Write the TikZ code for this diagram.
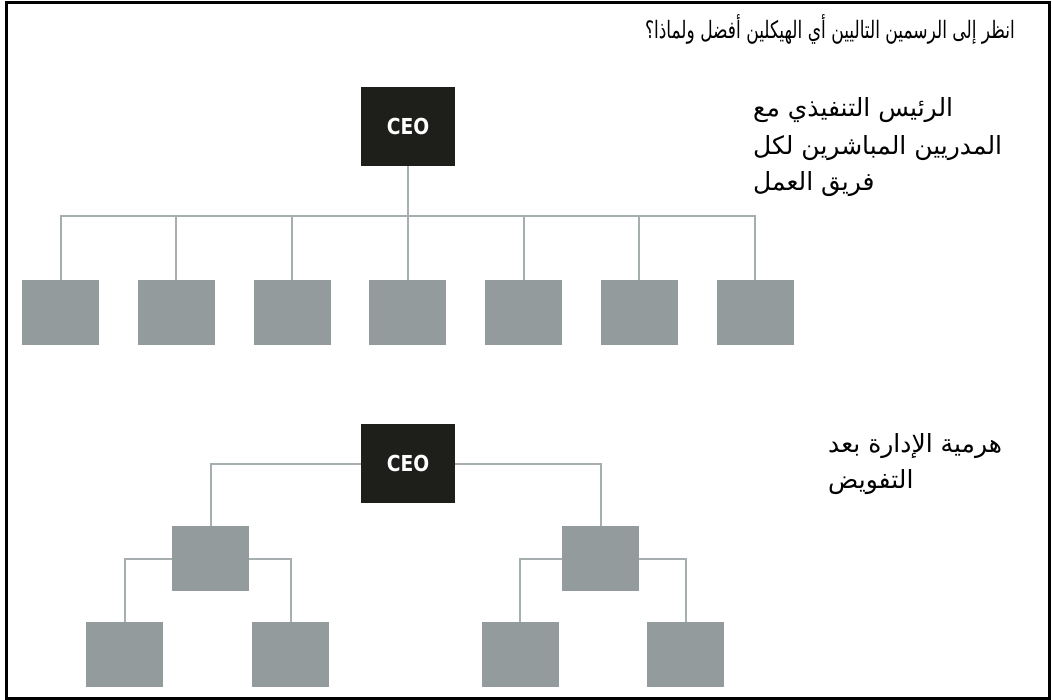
\documentclass[tikz,border=0pt]{standalone}
\usepackage{fontspec}
\TeXXeTstate=1
\newfontfamily\arabicfont[Script=Arabic]{DejaVu Sans}
\newfontfamily\arabictitlefont[Script=Arabic,FakeStretch=0.71]{DejaVu Sans}
\newfontfamily\ceofont[FakeStretch=0.85]{DejaVu Sans}
\definecolor{linegray}{HTML}{A7AEB0}
\definecolor{boxgray}{HTML}{949B9C}
\definecolor{ceoblack}{HTML}{1E1F1B}
\tikzset{
  ceobox/.style={fill=ceoblack, minimum width=94pt, minimum height=79pt, inner sep=0pt,
    text=white, font=\ceofont\bfseries\fontsize{22}{22}\selectfont},
  unitbox/.style={fill=boxgray, minimum width=77pt, minimum height=65pt, inner sep=0pt},
  link/.style={draw=linegray, line width=2pt},
  artext/.style={anchor=base west, inner sep=0pt, font=\arabicfont\fontsize{25}{30}\selectfont},
  artitle/.style={anchor=base east, inner sep=0pt, font=\arabictitlefont\fontsize{24}{28}\selectfont}
}
\begin{document}
\begin{tikzpicture}[x=1pt,y=-1pt]
\useasboundingbox (0,0) rectangle (1052,700);
\draw[line width=3pt, black] (6,3) rectangle (1049,698);

% title
\node[artitle] (title) at (1015,39) {\beginR انظر إلى الرسمين التاليين أي الهيكلين أفضل ولماذا؟\endR};

% top chart
\node[ceobox] (ceoA) at (408,126.5) {CEO};
\coordinate (bar) at (408,216);
\foreach \i [evaluate=\i as \x using 60.5+115.75*\i] in {0,...,6}{
  \node[unitbox] (u\i) at (\x,312.5) {};
}
\draw[link] (ceoA.south) -- (bar);
\foreach \i in {0,...,6}{
  \draw[link] (bar) -| (u\i.north);
}
\node[artext] (la1) at (753,117) {\beginR الرئيس التنفيذي مع\endR};
\node[artext] (la2) at (753,155) {\beginR المدريين المباشرين لكل\endR};
\node[artext] (la3) at (753,191) {\beginR فريق العمل\endR};

% bottom chart
\node[ceobox] (ceoB) at (408,463.5) {CEO};
\node[unitbox] (m1) at (210.5,558.5) {};
\node[unitbox] (m2) at (600.5,558.5) {};
\node[unitbox] (b1) at (124.5,654.5) {};
\node[unitbox] (b2) at (290.5,654.5) {};
\node[unitbox] (b3) at (520,654.5) {};
\node[unitbox] (b4) at (685.5,654.5) {};
\draw[link] (ceoB.west) -| (m1.north);
\draw[link] (ceoB.east) -| (m2.north);
\draw[link] (m1.west) -| (b1.north);
\draw[link] (m1.east) -| (b2.north);
\draw[link] (m2.west) -| (b3.north);
\draw[link] (m2.east) -| (b4.north);
\node[artext] (lb1) at (828,452) {\beginR هرمية الإدارة بعد\endR};
\node[artext] (lb2) at (828,488) {\beginR التفويض\endR};
\end{tikzpicture}
\end{document}
